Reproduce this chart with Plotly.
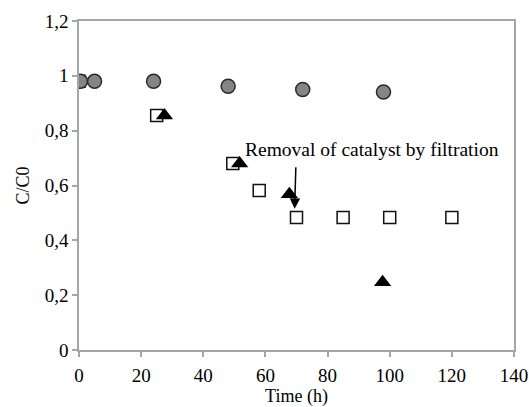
import plotly.graph_objects as go

# Series: relative concentration C/C0 vs. time (h)
circle_t = [0.5, 5, 24, 48, 72, 98]
circle_c = [0.98, 0.98, 0.98, 0.962, 0.950, 0.941]

square_t = [0, 25, 49.5, 58, 70, 85, 100, 120]
square_c = [0.98, 0.855, 0.68, 0.582, 0.483, 0.483, 0.483, 0.483]

triangle_t = [0, 27.5, 51.7, 67.7, 97.7]
triangle_c = [0.98, 0.855, 0.68, 0.568, 0.247]

annotation_text = "Removal of catalyst by filtration"

font_family = "Liberation Serif"
axis_color = "#a6a6a6"

fig = go.Figure()

fig.add_trace(go.Scatter(
    x=square_t, y=square_c, mode="markers",
    marker=dict(symbol="square", size=12, color="white",
                line=dict(color="#111111", width=1.5)),
    showlegend=False,
))
fig.add_trace(go.Scatter(
    x=triangle_t, y=triangle_c, mode="markers",
    marker=dict(symbol="triangle-up", size=15, color="black",
                line=dict(color="black", width=0)),
    showlegend=False,
))
fig.add_trace(go.Scatter(
    x=circle_t, y=circle_c, mode="markers",
    marker=dict(symbol="circle", size=14, color="#858585",
                line=dict(color="#2a2a2a", width=1.5)),
    showlegend=False,
))

# Arrow marking the filtration step
fig.add_annotation(
    x=69.4, y=0.515, ax=69.8, ay=0.672,
    xref="x", yref="y", axref="x", ayref="y",
    showarrow=True, arrowhead=2, arrowsize=1.4, arrowwidth=1.5,
    arrowcolor="black", text="",
)
fig.add_annotation(
    x=94.3, y=0.732, xref="x", yref="y", showarrow=False,
    text=annotation_text,
    font=dict(family=font_family, size=19.5, color="black"),
)

fig.update_layout(
    width=529, height=407,
    margin=dict(l=79, r=15, t=21, b=57),
    paper_bgcolor="white", plot_bgcolor="white",
    separators=", ",
    font=dict(family=font_family, size=19, color="black"),
    xaxis=dict(
        range=[0, 140], tickvals=[0, 20, 40, 60, 80, 100, 120, 140],
        showgrid=False, zeroline=False, showline=True, mirror=True,
        linecolor=axis_color, linewidth=1.5,
        ticks="outside", ticklen=5, tickcolor=axis_color, tickwidth=1.5,
        ticklabelstandoff=2, automargin=False,
        title=dict(text="Time (h)", font=dict(size=18), standoff=6),
    ),
    yaxis=dict(
        range=[0, 1.2], tickvals=[0, 0.2, 0.4, 0.6, 0.8, 1.0, 1.2],
        showgrid=False, zeroline=False, showline=True, mirror=True,
        linecolor=axis_color, linewidth=1.5,
        ticks="outside", ticklen=5, tickcolor=axis_color, tickwidth=1.5,
        automargin=False,
        title=dict(text="C/C0", font=dict(size=18), standoff=10),
    ),
)

fig.write_html("out.html")
